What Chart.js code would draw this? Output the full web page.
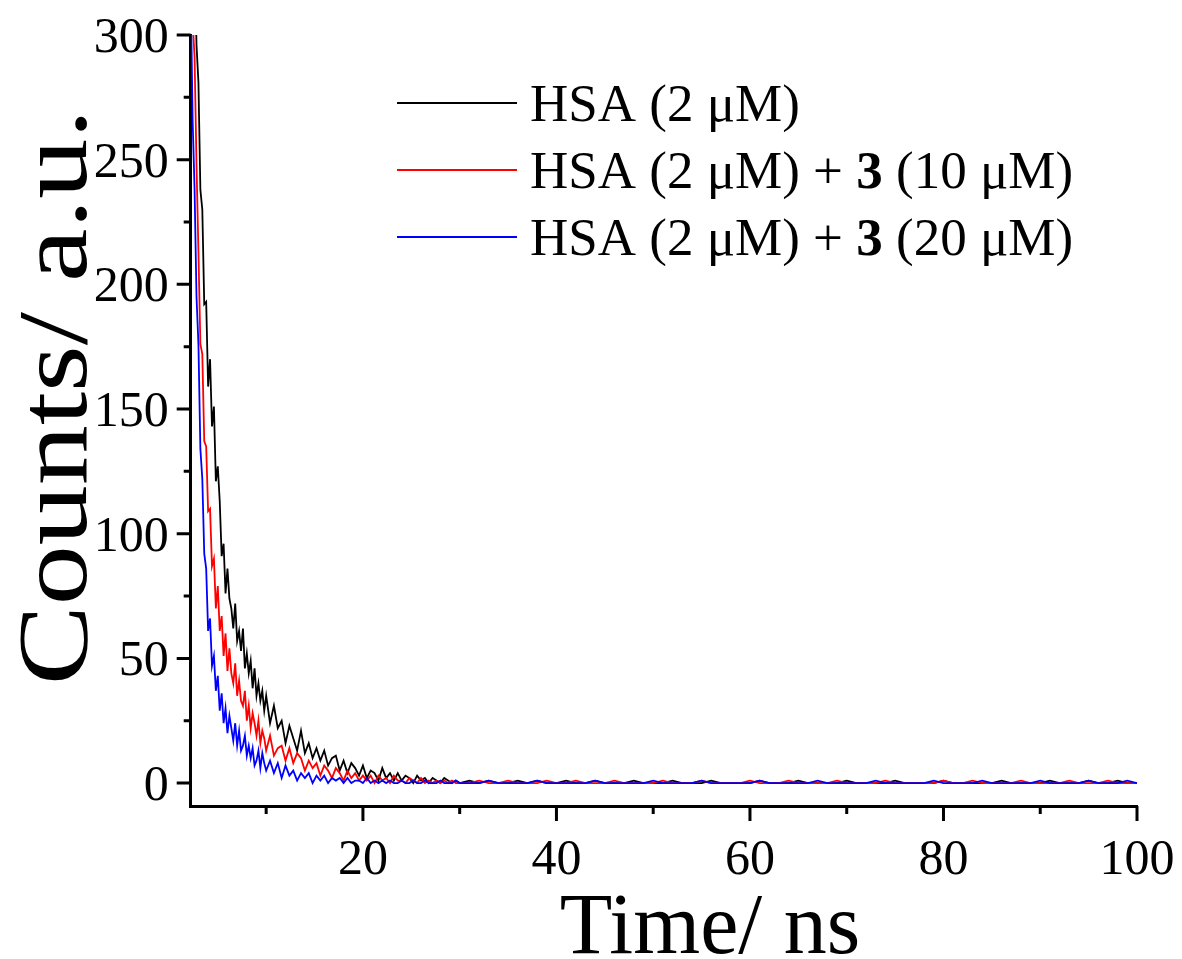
<!DOCTYPE html>
<html>
<head>
<meta charset="utf-8">
<script src="https://cdn.jsdelivr.net/npm/chart.js@4.4.1/dist/chart.umd.min.js"></script>
<style>
  html, body { margin: 0; padding: 0; background: #fff; }
</style>
</head>
<body>
<canvas id="decay" width="1182" height="959"></canvas>
<script>
// time axis (ns) - dense near the peak, sparse in the tail
const timeHead = [2.2, 2.4, 2.6, 2.8, 3.0, 3.2, 3.4, 3.6, 3.8, 4.0, 4.2, 4.4, 4.6, 4.8, 5.0, 5.2, 5.4, 5.6, 5.8, 6.0,
  6.2, 6.4, 6.6, 6.8, 7.0, 7.2, 7.4, 7.6, 7.8, 8.0, 8.2, 8.4, 8.6, 8.8, 9.0, 9.2, 9.4, 9.6, 9.8, 10.0];
const timeMid = [10.4, 10.8, 11.2, 11.6, 12.0, 12.4, 12.8, 13.2, 13.6, 14.0, 14.4, 14.8, 15.2, 15.6, 16.0, 16.4, 16.8,
  17.2, 17.6, 18.0, 18.4, 18.8, 19.2, 19.6, 20.0, 20.4, 20.8, 21.2, 21.6, 22.0, 22.4, 22.8, 23.2, 23.6, 24.0, 24.4,
  24.8, 25.2, 25.6, 26.0, 26.4, 26.8, 27.2, 27.6, 28.0, 28.4, 28.8, 29.2, 29.6, 30.0];
const timeTail = [31, 32, 33, 34, 35, 36, 37, 38, 39, 40, 41, 42, 43, 44, 45, 46, 47, 48, 49, 50,
  51, 52, 53, 54, 55, 56, 57, 58, 59, 60, 61, 62, 63, 64, 65, 66, 67, 68, 69, 70,
  71, 72, 73, 74, 75, 76, 77, 78, 79, 80, 81, 82, 83, 84, 85, 86, 87, 88, 89, 90,
  91, 92, 93, 94, 95, 96, 97, 98, 99, 100];
const timeNs = timeHead.concat(timeMid, timeTail);

// counts
const hsaOnly = [
  352, 338, 331, 296, 281, 238, 230, 192, 193, 159, 170, 143, 151, 121, 127, 113, 91, 96, 76, 86,
  74, 70, 62, 72, 57, 61, 53, 62, 46, 52, 44, 49, 38, 46, 35, 40, 33, 37, 29, 35,
  24, 31, 22, 25, 16, 23, 18, 13, 21, 12, 16, 10, 14, 9, 13, 7, 10, 11, 5, 9,
  4, 8, 6, 3, 7, 2, 5, 4, 1, 6, 2, 4, 1, 4, 1, 3, 2, 0, 3, 1, 2, 0, 2, 1, 0, 2, 1, 0, 1, 0,
  1, 0, 1, 0, 0, 1, 0, 1, 0, 0, 1, 0, 0, 1, 0, 0, 0, 1, 0, 0, 0, 1, 0, 0, 0, 1, 0, 0, 0, 0,
  1, 0, 0, 0, 1, 0, 0, 0, 0, 1, 0, 0, 0, 0, 1, 0, 0, 0, 0, 1, 0, 0, 0, 0, 0, 1, 0, 0, 0, 0,
  1, 0, 0, 0, 1, 0, 0, 1, 0, 0];
const hsaPlus10 = [
  342, 306, 291, 248, 213, 176, 172, 137, 135, 109, 110, 87, 90, 70, 79, 61, 67, 51, 60, 45,
  54, 44, 40, 48, 35, 41, 33, 31, 37, 25, 31, 22, 28, 24, 19, 25, 16, 21, 18, 13,
  19, 11, 14, 15, 9, 14, 8, 12, 10, 5, 9, 6, 8, 3, 7, 5, 2, 6, 4, 1,
  5, 2, 4, 1, 3, 1, 3, 0, 3, 1, 2, 0, 3, 1, 1, 0, 2, 1, 0, 2, 0, 1, 0, 1, 0, 1, 0, 1, 0, 0,
  0, 1, 0, 0, 1, 0, 0, 0, 1, 0, 0, 1, 0, 0, 0, 1, 0, 0, 0, 0, 1, 0, 0, 0, 1, 0, 0, 0, 0, 1,
  0, 0, 0, 1, 0, 0, 0, 0, 1, 0, 0, 0, 0, 1, 0, 0, 0, 0, 0, 1, 0, 0, 1, 0, 0, 0, 0, 1, 0, 0,
  0, 0, 1, 0, 0, 0, 1, 0, 0, 0];
const hsaPlus20 = [
  318, 266, 238, 195, 176, 134, 122, 92, 86, 61, 66, 47, 51, 37, 43, 29, 36, 24, 30, 20,
  27, 22, 17, 24, 15, 21, 13, 15, 19, 11, 15, 10, 14, 7, 9, 13, 6, 12, 8, 5,
  9, 4, 8, 2, 7, 3, 5, 1, 4, 2, 4, 0, 3, 1, 3, 0, 2, 1, 2, 0,
  2, 0, 1, 1, 0, 2, 0, 1, 0, 1, 0, 1, 0, 0, 1, 0, 0, 1, 0, 0, 1, 0, 0, 0, 1, 0, 0, 0, 1, 0,
  0, 0, 1, 0, 0, 0, 0, 1, 0, 0, 0, 0, 0, 1, 0, 0, 0, 0, 0, 1, 0, 0, 0, 0, 1, 0, 0, 0, 0, 0,
  1, 0, 0, 0, 0, 0, 1, 0, 0, 0, 0, 0, 1, 0, 0, 0, 0, 0, 1, 0, 0, 0, 0, 1, 0, 0, 0, 0, 0, 1,
  0, 0, 0, 0, 1, 0, 0, 0, 1, 0];

const xMajor = [20, 40, 60, 80, 100];
const xMinor = [10, 30, 50, 70, 90];
const yMajor = [0, 50, 100, 150, 200, 250, 300];
const yMinor = [25, 75, 125, 175, 225, 275];

// legend entries, the "3" is set in bold
const legendParts = [
  [['HSA (2 μM)', false]],
  [['HSA (2 μM) + ', false], ['3', true], [' (10 μM)', false]],
  [['HSA (2 μM) + ', false], ['3', true], [' (20 μM)', false]]
];
const seriesColors = ['#000000', '#ff0000', '#0000ff'];

const serif = '"Liberation Serif", "Times New Roman", serif';

function toPoints(ys) {
  return ys.map((v, i) => ({ x: timeNs[i], y: v }));
}

// ticks, tick labels, axis titles and legend drawn over the chart
const decorPlugin = {
  id: 'decor',
  afterDraw(chart) {
    const ctx = chart.ctx;
    const xs = chart.scales.x;
    const ys = chart.scales.y;
    const a = chart.chartArea;
    ctx.save();
    ctx.strokeStyle = '#000';
    ctx.lineWidth = 3;
    ctx.beginPath();
    yMajor.forEach(v => { const p = ys.getPixelForValue(v); ctx.moveTo(a.left - 14, p); ctx.lineTo(a.left, p); });
    yMinor.forEach(v => { const p = ys.getPixelForValue(v); ctx.moveTo(a.left - 7, p); ctx.lineTo(a.left, p); });
    xMajor.forEach(v => { const p = xs.getPixelForValue(v); ctx.moveTo(p, a.bottom); ctx.lineTo(p, a.bottom + 15); });
    xMinor.forEach(v => { const p = xs.getPixelForValue(v); ctx.moveTo(p, a.bottom); ctx.lineTo(p, a.bottom + 8); });
    ctx.stroke();

    ctx.fillStyle = '#000';
    ctx.font = '50px ' + serif;
    ctx.textBaseline = 'alphabetic';
    // y tick labels
    ctx.textAlign = 'right';
    yMajor.forEach(v => {
      ctx.fillText(String(v), a.left - 22, ys.getPixelForValue(v) + 17);
    });
    // x tick labels
    ctx.textAlign = 'center';
    xMajor.forEach(v => {
      ctx.fillText(String(v), xs.getPixelForValue(v), a.bottom + 68);
    });

    // axis titles
    ctx.font = '86px ' + serif;
    ctx.fillText('Time/ ns', 710, 953);
    ctx.save();
    ctx.translate(86, 397);
    ctx.rotate(-Math.PI / 2);
    ctx.scale(1.2, 1);
    ctx.font = '100px ' + serif;
    ctx.fillText('Counts/ a.u.', 0, 0);
    ctx.restore();

    // legend
    ctx.textAlign = 'left';
    legendParts.forEach((parts, i) => {
      const y = 103 + i * 67;
      ctx.strokeStyle = seriesColors[i];
      ctx.lineWidth = 2;
      ctx.beginPath();
      ctx.moveTo(397, y);
      ctx.lineTo(517, y);
      ctx.stroke();
      let x = 530;
      parts.forEach(([txt, bold]) => {
        ctx.font = (bold ? 'bold ' : '') + '53px ' + serif;
        ctx.fillText(txt, x, y + 18);
        x += ctx.measureText(txt).width;
      });
    });
    ctx.restore();
  }
};

new Chart(document.getElementById('decay'), {
  type: 'line',
  data: {
    datasets: [
      { label: 'HSA (2 μM)', data: toPoints(hsaOnly), borderColor: seriesColors[0], order: 3 },
      { label: 'HSA (2 μM) + 3 (10 μM)', data: toPoints(hsaPlus10), borderColor: seriesColors[1], order: 2 },
      { label: 'HSA (2 μM) + 3 (20 μM)', data: toPoints(hsaPlus20), borderColor: seriesColors[2], order: 1 }
    ]
  },
  options: {
    responsive: false,
    animation: false,
    events: [],
    layout: { padding: { top: 35, right: 45, left: 0, bottom: 0 } },
    elements: {
      line: { borderWidth: 1.8, tension: 0, fill: false },
      point: { radius: 0 }
    },
    plugins: { legend: { display: false }, tooltip: { enabled: false } },
    scales: {
      x: {
        type: 'linear',
        min: 2.2,
        max: 100,
        grid: { display: false, drawTicks: false },
        border: { display: true, color: '#000', width: 3 },
        ticks: { display: false },
        afterFit(s) { s.height = 153; }
      },
      y: {
        type: 'linear',
        min: -9.2,
        max: 300,
        grid: { display: false, drawTicks: false },
        border: { display: true, color: '#000', width: 3 },
        ticks: { display: false },
        afterFit(s) { s.width = 190.7; }
      }
    }
  },
  plugins: [decorPlugin]
});
</script>
</body>
</html>
